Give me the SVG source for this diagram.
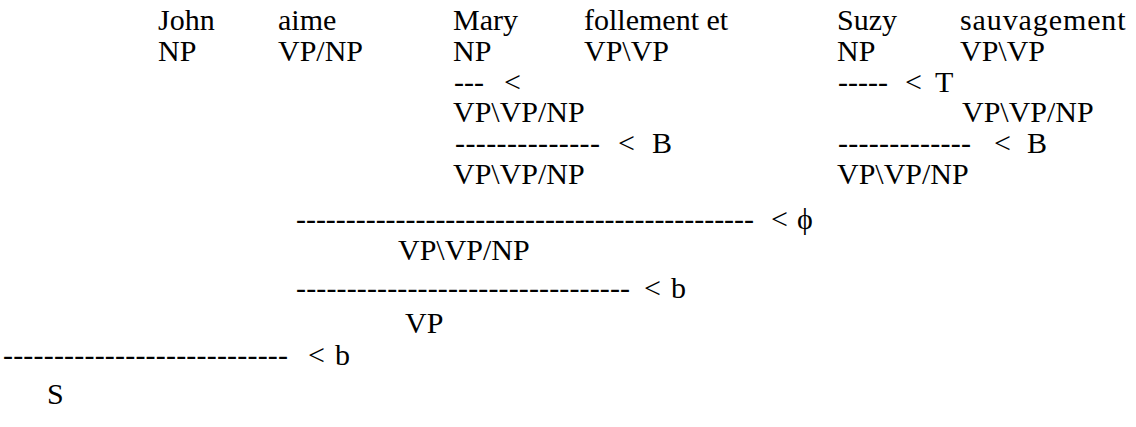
<svg xmlns="http://www.w3.org/2000/svg" width="1136" height="427" viewBox="0 0 1136 427">
  <style>
    text { font-family: "Liberation Serif", "Times New Roman", serif; font-size: 30px; fill: #000; white-space: pre; }
  </style>
  <rect width="1136" height="427" fill="#fff"/>

  <!-- lexical entries: word over category -->
  <g id="w-john"><text x="158" y="30">John</text><text x="158" y="61">NP</text></g>
  <g id="w-aime"><text x="278" y="30">aime</text><text x="278" y="61">VP/NP</text></g>
  <g id="w-mary"><text x="453" y="30">Mary</text><text x="453" y="61">NP</text></g>
  <g id="w-follement"><text x="584" y="30">follement et</text><text x="584" y="61">VP\VP</text></g>
  <g id="w-suzy"><text x="837" y="30">Suzy</text><text x="837" y="61">NP</text></g>
  <g id="w-sauvagement"><text x="960" y="30" letter-spacing="0.9">sauvagement</text><text x="960" y="61">VP\VP</text></g>

  <!-- derivation steps: dashed rule line with its combinator -->
  <g id="connectors">
    <text x="454" y="92" textLength="30" lengthAdjust="spacing">---</text><text x="504" y="92">&lt;</text>
    <text x="838" y="92" textLength="50" lengthAdjust="spacing">-----</text><text x="905" y="92">&lt;</text><text x="935" y="92">T</text>
    <text x="455" y="153" textLength="145" lengthAdjust="spacing">--------------</text><text x="618" y="153">&lt;</text><text x="652" y="153">B</text>
    <text x="838" y="153" textLength="133" lengthAdjust="spacing">-------------</text><text x="994" y="153">&lt;</text><text x="1027" y="153">B</text>
    <text x="296" y="229" textLength="458" lengthAdjust="spacing">----------------------------------------------</text><text x="771" y="229">&lt;</text><text x="797" y="229">ϕ</text>
    <text x="296" y="298" textLength="334" lengthAdjust="spacing">---------------------------------</text><text x="644" y="298">&lt;</text><text x="671" y="298">b</text>
    <text x="3" y="365" textLength="285" lengthAdjust="spacing">----------------------------</text><text x="308" y="365">&lt;</text><text x="335" y="365">b</text>
  </g>

  <!-- derived categories -->
  <g id="r-mary"><text x="453" y="122">VP\VP/NP</text></g>
  <g id="r-sauvagement"><text x="962" y="122">VP\VP/NP</text></g>
  <g id="r-b1"><text x="453" y="184">VP\VP/NP</text></g>
  <g id="r-b2"><text x="837" y="184">VP\VP/NP</text></g>
  <g id="r-phi"><text x="398" y="260">VP\VP/NP</text></g>
  <g id="r-vp"><text x="405" y="333">VP</text></g>
  <g id="r-s"><text x="47" y="404">S</text></g>
</svg>
